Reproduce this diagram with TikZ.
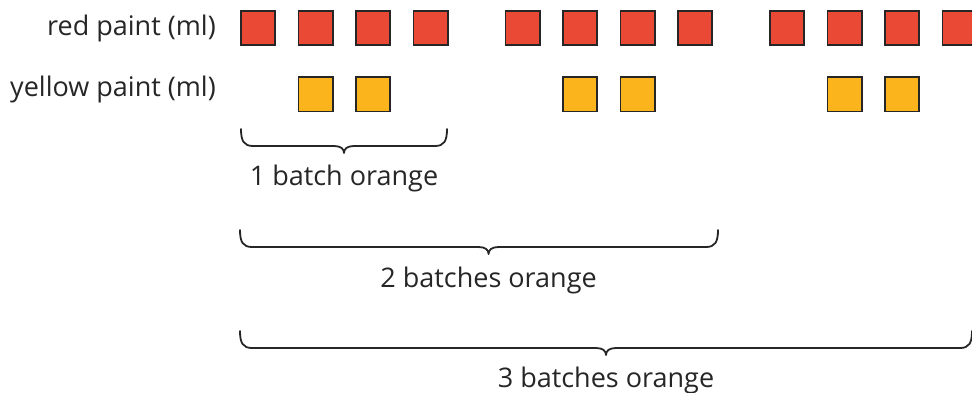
\documentclass[tikz,border=0pt]{standalone}
\usepackage{fontspec}
\setmainfont{Open Sans}
\usetikzlibrary{positioning,calc}
\definecolor{paintred}{HTML}{EA4A35}
\definecolor{paintyellow}{HTML}{FBB41C}
\definecolor{inkgrey}{HTML}{262626}

\begin{document}
\begin{tikzpicture}[x=1pt,y=-1pt,node distance=24pt,
 sq/.style={draw=inkgrey,line width=1.8pt,minimum size=34.2pt,inner sep=0pt},
 redsq/.style={sq,fill=paintred},
 yelsq/.style={sq,fill=paintyellow},
 rowlabel/.style={inner sep=0pt,text=inkgrey,font=\fontsize{27}{31}\selectfont},
 batchlabel/.style={inner sep=0pt,text=inkgrey,font=\fontsize{27}{31}\selectfont},
 tipat/.store in=\tipfrac, tipat=0.5,
 batchbrace/.style={draw=inkgrey,line width=1.8pt,line join=round,line cap=round,
  to path={.. controls +(0,12) and +(-9,0) .. ($(\tikztostart)+(12,17)$)
   -- ($(\tikztostart)!\tipfrac!(\tikztotarget)+(-10,17)$)
   .. controls +(7,0) and +(0,-4) .. ($(\tikztostart)!\tipfrac!(\tikztotarget)+(0,24)$)
   .. controls +(0,-4) and +(-7,0) .. ($(\tikztostart)!\tipfrac!(\tikztotarget)+(10,17)$)
   -- ($(\tikztotarget)+(-12,17)$)
   .. controls +(9,0) and +(0,12) .. (\tikztotarget)}}]
\useasboundingbox (0,0) rectangle (972,393);
\foreach \g in {0,1,2}{
 \foreach \i in {0,...,3}{\node[redsq] (r\g\i) at (258+264.5*\g+57.5*\i,28) {};}
 \foreach \i in {1,2}{\node[yelsq] (y\g\i) at (258+264.5*\g+57.5*\i,94.5) {};}
}
\node[rowlabel,left=24pt of r00] (redlbl) {red paint (ml)};
\node[rowlabel,anchor=east] (yellowlbl) at (redlbl.east |- 0,89) {yellow paint (ml)};
\coordinate (b1l) at (241,129);
\coordinate (b1r) at (447,129);
\coordinate (b2l) at (240,230);
\coordinate (b2r) at (718,230);
\coordinate (b3l) at (240,331);
\coordinate (b3r) at (972,331);
\draw[batchbrace] (b1l) to (b1r);
\draw[batchbrace,tipat=0.52] (b2l) to (b2r);
\draw[batchbrace] (b3l) to (b3r);
\node[batchlabel] (onebatch) at ($(b1l)!0.5!(b1r)+(0,49)$) {1 batch orange};
\node[batchlabel] (twobatch) at ($(b2l)!0.52!(b2r)+(0,50)$) {2 batches orange};
\node[batchlabel] (threebatch) at ($(b3l)!0.5!(b3r)+(0,49)$) {3 batches orange};
\end{tikzpicture}
\end{document}
